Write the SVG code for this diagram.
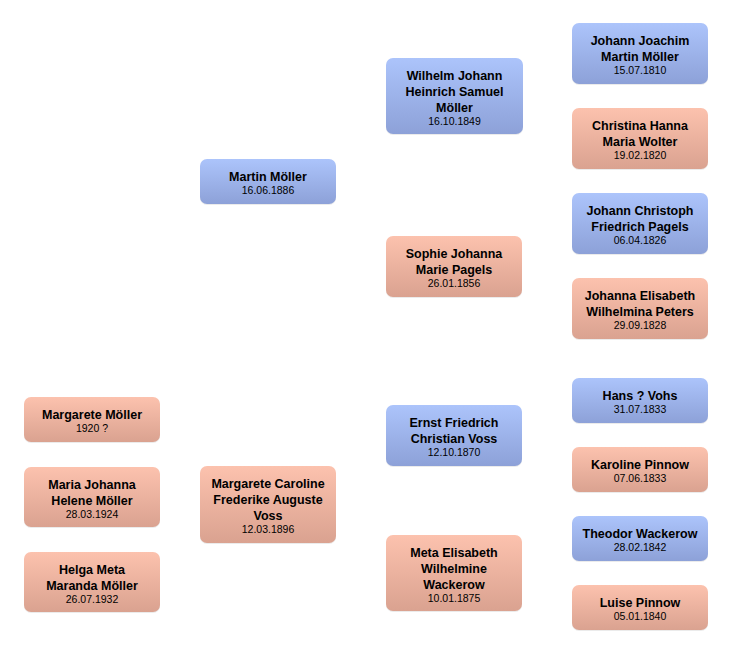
<svg xmlns="http://www.w3.org/2000/svg" width="732" height="654" viewBox="0 0 732 654">
<defs>
<linearGradient id="gBlue" x1="0" y1="0" x2="0" y2="1">
<stop offset="0" stop-color="#acc4fb"/>
<stop offset="1" stop-color="#8da1d8"/>
</linearGradient>
<linearGradient id="gPink" x1="0" y1="0" x2="0" y2="1">
<stop offset="0" stop-color="#fcc2ae"/>
<stop offset="1" stop-color="#daa290"/>
</linearGradient>
</defs>
<style>
.sh{fill:#000;opacity:0.08}
.m{fill:url(#gBlue)}
.f{fill:url(#gPink)}
text{font-family:"Liberation Sans",Arial,sans-serif;text-anchor:middle;fill:#000}
.n{font-size:12.5px;font-weight:bold}
.d{font-size:10.5px}
</style>
<rect width="732" height="654" fill="#fff"/>
<g id="connectors"></g>

<g id="n-martin">
<rect class="sh" x="200" y="160" width="136" height="45" rx="7"/>
<rect class="m" x="200" y="159" width="136" height="45" rx="7"/>
<text class="n" x="268" y="180.5">Martin Möller</text>
<text class="d" x="268" y="194">16.06.1886</text>
</g>

<g id="n-margarete-caroline">
<rect class="sh" x="200" y="467" width="136" height="77" rx="7"/>
<rect class="f" x="200" y="466" width="136" height="77" rx="7"/>
<text class="n" x="268" y="487.5">Margarete Caroline</text>
<text class="n" x="268" y="503.5">Frederike Auguste</text>
<text class="n" x="268" y="519.5">Voss</text>
<text class="d" x="268" y="532.5">12.03.1896</text>
</g>

<g id="n-wilhelm">
<rect class="sh" x="386" y="59" width="137" height="76" rx="7"/>
<rect class="m" x="386" y="58" width="137" height="76" rx="7"/>
<text class="n" x="454.5" y="79.5">Wilhelm Johann</text>
<text class="n" x="454.5" y="95.5">Heinrich Samuel</text>
<text class="n" x="454.5" y="111.5">Möller</text>
<text class="d" x="454.5" y="124.5">16.10.1849</text>
</g>

<g id="n-sophie">
<rect class="sh" x="386" y="237" width="136" height="61" rx="7"/>
<rect class="f" x="386" y="236" width="136" height="61" rx="7"/>
<text class="n" x="454" y="257.5">Sophie Johanna</text>
<text class="n" x="454" y="273.5">Marie Pagels</text>
<text class="d" x="454" y="287">26.01.1856</text>
</g>

<g id="n-ernst">
<rect class="sh" x="386" y="406" width="136" height="61" rx="7"/>
<rect class="m" x="386" y="405" width="136" height="61" rx="7"/>
<text class="n" x="454" y="426.5">Ernst Friedrich</text>
<text class="n" x="454" y="442.5">Christian Voss</text>
<text class="d" x="454" y="456">12.10.1870</text>
</g>

<g id="n-meta">
<rect class="sh" x="386" y="536" width="136" height="76" rx="7"/>
<rect class="f" x="386" y="535" width="136" height="76" rx="7"/>
<text class="n" x="454" y="556.5">Meta Elisabeth</text>
<text class="n" x="454" y="572.5">Wilhelmine</text>
<text class="n" x="454" y="588.5">Wackerow</text>
<text class="d" x="454" y="601.5">10.01.1875</text>
</g>

<g id="n-johann-joachim">
<rect class="sh" x="572" y="24" width="136" height="61" rx="7"/>
<rect class="m" x="572" y="23" width="136" height="61" rx="7"/>
<text class="n" x="640" y="44.5">Johann Joachim</text>
<text class="n" x="640" y="60.5">Martin Möller</text>
<text class="d" x="640" y="74">15.07.1810</text>
</g>

<g id="n-christina">
<rect class="sh" x="572" y="109" width="136" height="61" rx="7"/>
<rect class="f" x="572" y="108" width="136" height="61" rx="7"/>
<text class="n" x="640" y="129.5">Christina Hanna</text>
<text class="n" x="640" y="145.5">Maria Wolter</text>
<text class="d" x="640" y="159">19.02.1820</text>
</g>

<g id="n-johann-christoph">
<rect class="sh" x="572" y="194" width="136" height="61" rx="7"/>
<rect class="m" x="572" y="193" width="136" height="61" rx="7"/>
<text class="n" x="640" y="214.5">Johann Christoph</text>
<text class="n" x="640" y="230.5">Friedrich Pagels</text>
<text class="d" x="640" y="244">06.04.1826</text>
</g>

<g id="n-johanna-elisabeth">
<rect class="sh" x="572" y="279" width="136" height="61" rx="7"/>
<rect class="f" x="572" y="278" width="136" height="61" rx="7"/>
<text class="n" x="640" y="299.5">Johanna Elisabeth</text>
<text class="n" x="640" y="315.5">Wilhelmina Peters</text>
<text class="d" x="640" y="329">29.09.1828</text>
</g>

<g id="n-hans">
<rect class="sh" x="572" y="379" width="136" height="45" rx="7"/>
<rect class="m" x="572" y="378" width="136" height="45" rx="7"/>
<text class="n" x="640" y="399.5">Hans ? Vohs</text>
<text class="d" x="640" y="413">31.07.1833</text>
</g>

<g id="n-karoline">
<rect class="sh" x="572" y="448" width="136" height="45" rx="7"/>
<rect class="f" x="572" y="447" width="136" height="45" rx="7"/>
<text class="n" x="640" y="468.5">Karoline Pinnow</text>
<text class="d" x="640" y="482">07.06.1833</text>
</g>

<g id="n-theodor">
<rect class="sh" x="572" y="517" width="136" height="45" rx="7"/>
<rect class="m" x="572" y="516" width="136" height="45" rx="7"/>
<text class="n" x="640" y="537.5">Theodor Wackerow</text>
<text class="d" x="640" y="551">28.02.1842</text>
</g>

<g id="n-luise">
<rect class="sh" x="572" y="586" width="136" height="45" rx="7"/>
<rect class="f" x="572" y="585" width="136" height="45" rx="7"/>
<text class="n" x="640" y="606.5">Luise Pinnow</text>
<text class="d" x="640" y="620">05.01.1840</text>
</g>

<g id="n-margarete-moeller">
<rect class="sh" x="24" y="398" width="136" height="45" rx="7"/>
<rect class="f" x="24" y="397" width="136" height="45" rx="7"/>
<text class="n" x="92" y="418.5">Margarete Möller</text>
<text class="d" x="92" y="432">1920 ?</text>
</g>

<g id="n-maria-johanna">
<rect class="sh" x="24" y="468" width="136" height="60" rx="7"/>
<rect class="f" x="24" y="467" width="136" height="60" rx="7"/>
<text class="n" x="92" y="488.5">Maria Johanna</text>
<text class="n" x="92" y="504.5">Helene Möller</text>
<text class="d" x="92" y="518">28.03.1924</text>
</g>

<g id="n-helga">
<rect class="sh" x="24" y="553" width="136" height="60" rx="7"/>
<rect class="f" x="24" y="552" width="136" height="60" rx="7"/>
<text class="n" x="92" y="573.5">Helga Meta</text>
<text class="n" x="92" y="589.5">Maranda Möller</text>
<text class="d" x="92" y="603">26.07.1932</text>
</g>
</svg>
